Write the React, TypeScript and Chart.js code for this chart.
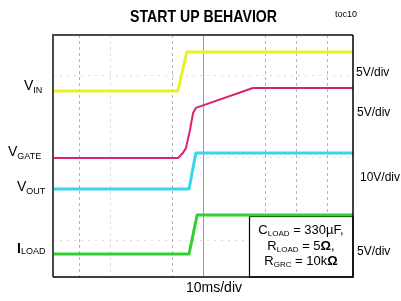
import React, { useEffect, useRef } from "react";
import { Chart, registerables } from "chart.js";

Chart.register(...registerables);

// time axis (ms), 10 ms/div
const xMin = -8.4;
const xMax = 88.4;
const xGridTicks = [0, 10, 30, 40, 60, 70, 80];
const yGridTicks = [1.22, 3.97, 6.68];

// traces in screen divisions (0 = bottom, 8 = top)
const vinTime = [-8.4, 31.9, 34.8, 88.4];
const vinDiv = [6.15, 6.15, 7.44, 7.44];
const vgateTime = [-8.4, 31.9, 33.5, 34.5, 35.8, 36.8, 37.7, 56.1, 88.4];
const vgateDiv = [3.93, 3.93, 4.1, 4.26, 4.86, 5.42, 5.59, 6.25, 6.25];
const voutTime = [-8.4, 35.5, 37.7, 88.4];
const voutDiv = [2.91, 2.91, 4.1, 4.1];
const iloadTime = [-8.4, 35.5, 38.1, 88.4];
const iloadDiv = [0.76, 0.76, 2.05, 2.05];

const FONT = "'Liberation Sans', Arial, sans-serif";

type Part = { t: string; size: number; dy?: number; bold?: boolean };

function drawRich(ctx: CanvasRenderingContext2D, parts: Part[], x: number, y: number, align: "left" | "center" = "left") {
  ctx.save();
  ctx.textBaseline = "alphabetic";
  ctx.textAlign = "left";
  let total = 0;
  const widths = parts.map((p) => {
    ctx.font = `${p.bold ? "bold " : ""}${p.size}px ${FONT}`;
    const w = ctx.measureText(p.t).width;
    total += w;
    return w;
  });
  let cx = align === "center" ? x - total / 2 : x;
  parts.forEach((p, i) => {
    ctx.font = `${p.bold ? "bold " : ""}${p.size}px ${FONT}`;
    ctx.fillText(p.t, cx, y + (p.dy || 0));
    cx += widths[i];
  });
  ctx.restore();
}

const toPts = (xs: number[], ys: number[]) => xs.map((x, i) => ({ x, y: ys[i] }));

export default function App() {
  const ref = useRef<HTMLCanvasElement | null>(null);
  useEffect(() => {
    if (!ref.current) return;
    const decor = {
      id: "decor",
      beforeDatasetsDraw(chart: any) {
        const { ctx, chartArea: a, scales } = chart;
        const xs = scales.x;
        const ys = scales.y;
        ctx.save();
        ctx.fillStyle = "#fff";
        ctx.fillRect(a.left, a.top, a.right - a.left, a.bottom - a.top);
        ctx.strokeStyle = "#d8d8d8";
        ctx.lineWidth = 1;
        ctx.setLineDash([2, 5]);
        yGridTicks.forEach((v) => {
          const py = Math.round(ys.getPixelForValue(v)) + 0.5;
          ctx.beginPath();
          ctx.moveTo(a.left, py);
          ctx.lineTo(a.right, py);
          ctx.stroke();
        });
        xGridTicks.forEach((v) => {
          const px = Math.round(xs.getPixelForValue(v)) + 0.5;
          if (v === 40) {
            ctx.setLineDash([]);
            ctx.strokeStyle = "#9a9a9a";
          } else if (v === 10) {
            ctx.setLineDash([3, 3]);
            ctx.strokeStyle = "#e0e0e0";
          } else {
            ctx.setLineDash([3, 3]);
            ctx.strokeStyle = "#b4b4b4";
          }
          ctx.beginPath();
          ctx.moveTo(px, a.top);
          ctx.lineTo(px, a.bottom);
          ctx.stroke();
        });
        ctx.setLineDash([]);
        const bx = Math.round(xs.getPixelForValue(54.8)) + 0.5;
        const by = Math.round(ys.getPixelForValue(iloadDiv[2])) + 1.5;
        ctx.fillStyle = "#fff";
        ctx.fillRect(bx, by, a.right - bx, a.bottom - by);
        ctx.strokeStyle = "#000";
        ctx.lineWidth = 1.2;
        ctx.strokeRect(bx, by, a.right - bx, a.bottom - by);
        ctx.restore();
      },
      afterDatasetsDraw(chart: any) {
        const { ctx, chartArea: a } = chart;
        ctx.save();
        ctx.lineWidth = 2;
        ctx.strokeStyle = "#4a4a4a";
        ctx.beginPath();
        ctx.moveTo(a.left, a.bottom);
        ctx.lineTo(a.left, a.top);
        ctx.lineTo(a.right, a.top);
        ctx.stroke();
        ctx.strokeStyle = "#000";
        ctx.lineWidth = 1.5;
        ctx.beginPath();
        ctx.moveTo(a.right, a.top);
        ctx.lineTo(a.right, a.bottom);
        ctx.lineTo(a.left, a.bottom);
        ctx.stroke();

        ctx.fillStyle = "#000";
        ctx.font = `bold 16.5px ${FONT}`;
        ctx.textAlign = "center";
        ctx.textBaseline = "alphabetic";
        ctx.fillText("START UP BEHAVIOR", 203.5, 22, 147);
        ctx.font = `9px ${FONT}`;
        ctx.textAlign = "left";
        ctx.fillText("toc10", 335, 17);
        ctx.font = `14px ${FONT}`;
        ctx.textAlign = "center";
        ctx.fillText("10ms/div", 214, 292);

        drawRich(ctx, [{ t: "V", size: 14 }, { t: "IN", size: 9, dy: 3 }], 24, 90);
        drawRich(ctx, [{ t: "V", size: 14 }, { t: "GATE", size: 9, dy: 3 }], 8, 156);
        drawRich(ctx, [{ t: "V", size: 14 }, { t: "OUT", size: 9, dy: 3 }], 17, 191);
        drawRich(ctx, [{ t: "I", size: 14, bold: true }, { t: "LOAD", size: 9, dy: 1 }], 17, 253);

        ctx.font = `12px ${FONT}`;
        ctx.textAlign = "left";
        ctx.textBaseline = "middle";
        ctx.fillText("5V/div", 356, 73);
        ctx.fillText("5V/div", 357, 113);
        ctx.fillText("10V/div", 360, 178);
        ctx.fillText("5V/div", 357, 252);

        drawRich(ctx, [{ t: "C", size: 13 }, { t: "LOAD", size: 8, dy: 2 }, { t: " = 330\u00b5F,", size: 13 }], 301, 234, "center");
        drawRich(ctx, [{ t: "R", size: 13 }, { t: "LOAD", size: 8, dy: 2 }, { t: " = 5", size: 13 }, { t: "\u03a9", size: 13, bold: true }, { t: ",", size: 13 }], 301, 250, "center");
        drawRich(ctx, [{ t: "R", size: 13 }, { t: "GRC", size: 8, dy: 2 }, { t: " = 10k", size: 13 }, { t: "\u03a9", size: 13, bold: true }], 301, 265, "center");
        ctx.restore();
      },
    };

    const chart = new Chart(ref.current, {
      type: "line",
      data: {
        datasets: [
          { label: "VIN", data: toPts(vinTime, vinDiv), borderColor: "#eeee28", borderWidth: 3 },
          { label: "VGATE", data: toPts(vgateTime, vgateDiv), borderColor: "#da2274", borderWidth: 2 },
          { label: "VOUT", data: toPts(voutTime, voutDiv), borderColor: "#3ad4ee", borderWidth: 3 },
          { label: "ILOAD", data: toPts(iloadTime, iloadDiv), borderColor: "#30d030", borderWidth: 3 },
        ],
      },
      options: {
        responsive: false,
        animation: false,
        layout: { padding: { left: 53, top: 35, right: 48, bottom: 24 } },
        elements: { point: { radius: 0 }, line: { tension: 0, borderCapStyle: "butt", borderJoinStyle: "round" } },
        plugins: { legend: { display: false }, tooltip: { enabled: false }, title: { display: false } },
        scales: {
          x: { type: "linear", min: xMin, max: xMax, display: false },
          y: { type: "linear", min: 0, max: 8, display: false },
        },
      },
      plugins: [decor],
    } as any);
    return () => chart.destroy();
  }, []);

  return (
    <div style={{ position: "absolute", left: 0, top: 0, width: 401, height: 301, background: "#fff" }}>
      <canvas ref={ref} width={401} height={301} />
    </div>
  );
}
